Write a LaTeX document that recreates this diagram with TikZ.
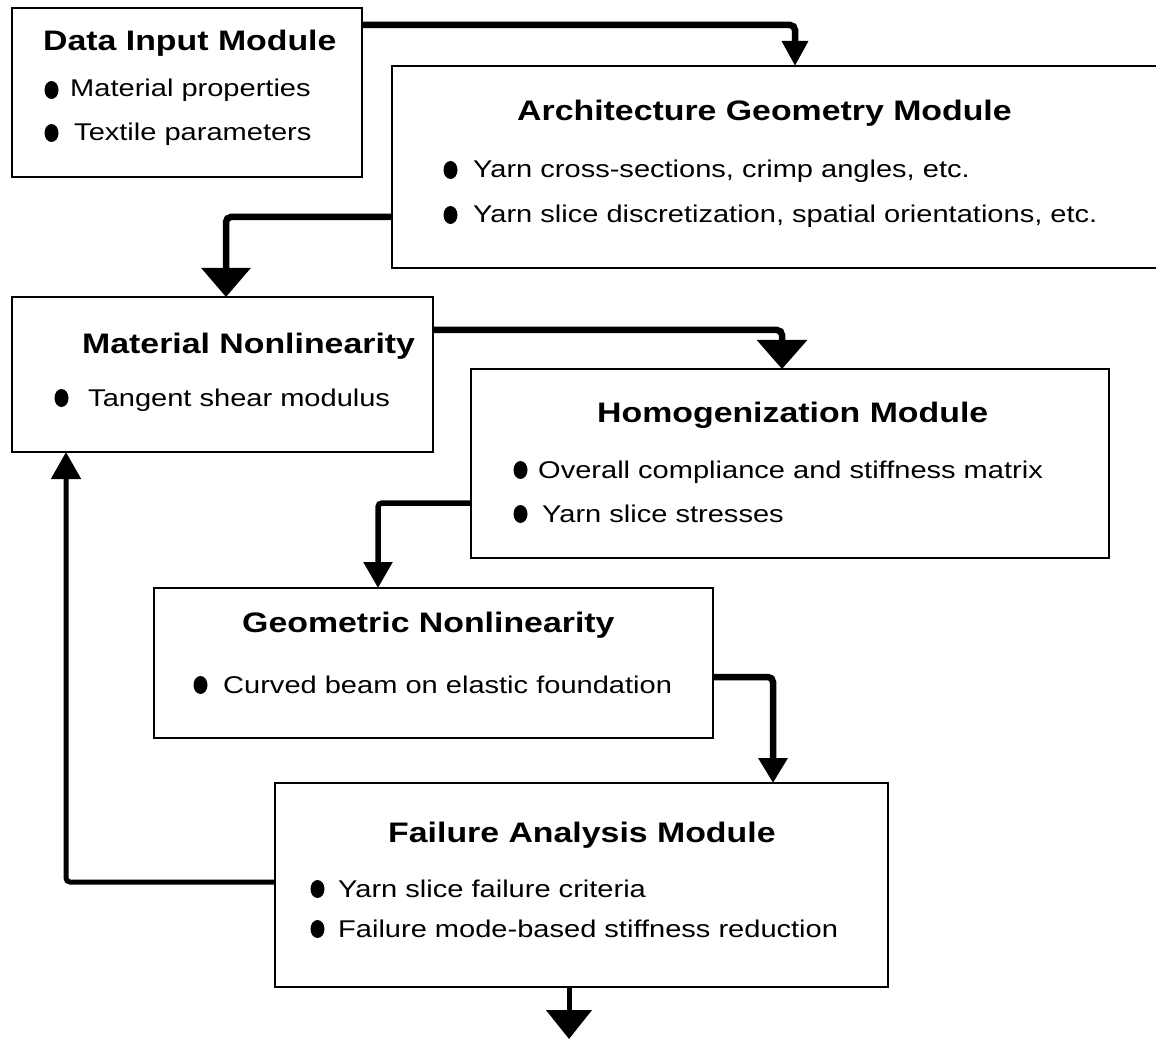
\documentclass[tikz,border=0pt]{standalone}
\usepackage{fontspec}
\setmainfont[FakeStretch=1.2]{Liberation Sans}
\usetikzlibrary{arrows.meta}
% filled oval bullet in front of a list line
\newcommand\bulat[2]{\fill (#1,#2) ellipse [x radius=7pt, y radius=9pt];}
\begin{document}
\begin{tikzpicture}[x=1pt,y=-1pt,
  box/.style={draw, line width=2.8pt, inner sep=0pt, outer sep=0pt, anchor=north west},
  ttl/.style={anchor=base west, inner sep=0pt, font=\fontsize{28.2}{32}\selectfont\bfseries},
  itm/.style={anchor=base west, inner sep=0pt, font=\fontsize{24.2}{28}\selectfont},
  conn/.style={line width=6.5pt, rounded corners=5pt},
  thinconn/.style={line width=5pt, rounded corners=4pt}
]
\clip (0,0) rectangle (1156,1040);
\fill[white] (0,0) rectangle (1156,1040);

% module boxes
\node[box, minimum width=350pt, minimum height=169pt] (dat)  at (12,8) {};
\node[box, minimum width=780pt, minimum height=202pt] (arch) at (392,66) {};
\node[box, minimum width=421pt, minimum height=155pt] (mat)  at (12,297) {};
\node[box, minimum width=638pt, minimum height=189pt] (hom)  at (471,369) {};
\node[box, minimum width=559pt, minimum height=150pt] (geo)  at (154,588) {};
\node[box, minimum width=613pt, minimum height=204pt] (fail) at (275,783) {};

% Data Input Module
\node[ttl] (dat-t) at (43,51) {Data Input Module};
\bulat{51.5}{90}
\node[itm] (dat-1) at (70,97) {Material properties};
\bulat{51.5}{133}
\node[itm] (dat-2) at (74,141) {Textile parameters};

% Architecture Geometry Module
\node[ttl] (arch-t) at (517,121) {Architecture Geometry Module};
\bulat{450.5}{170}
\node[itm] (arch-1) at (473,178) {Yarn cross-sections, crimp angles, etc.};
\bulat{450.5}{215}
\node[itm] (arch-2) at (473,223) {Yarn slice discretization, spatial orientations, etc.};

% Material Nonlinearity
\node[ttl] (mat-t) at (82,353) {Material Nonlinearity};
\bulat{61.5}{398}
\node[itm] (mat-1) at (88,406) {Tangent shear modulus};

% Homogenization Module
\node[ttl] (hom-t) at (597,422) {Homogenization Module};
\bulat{520.5}{470}
\node[itm] (hom-1) at (538,478) {Overall compliance and stiffness matrix};
\bulat{520.5}{514}
\node[itm] (hom-2) at (542,522) {Yarn slice stresses};

% Geometric Nonlinearity
\node[ttl] (geo-t) at (242,632) {Geometric Nonlinearity};
\bulat{200.5}{685}
\node[itm] (geo-1) at (223,693) {Curved beam on elastic foundation};

% Failure Analysis Module
\node[ttl] (fail-t) at (388,842) {Failure Analysis Module};
\bulat{317.5}{889}
\node[itm] (fail-1) at (338,897) {Yarn slice failure criteria};
\bulat{317.5}{929}
\node[itm] (fail-2) at (338,937) {Failure mode-based stiffness reduction};

% data flow
\draw[conn, -{Triangle[width=25pt,length=25pt]}]
  ([yshift=-17pt]dat.north east) -| ([xshift=403pt]arch.north west);
\draw[conn, -{Triangle[width=48pt,length=29pt]}]
  ([yshift=-151pt]arch.north west) -| ([xshift=214pt]mat.north west);
\draw[conn, -{Triangle[width=49pt,length=29pt]}]
  ([yshift=-33pt]mat.north east) -| ([xshift=311pt]hom.north west);
\draw[thinconn, line width=5.5pt, -{Triangle[width=28pt,length=26pt]}]
  ([yshift=-134pt]hom.north west) -| ([xshift=224pt]geo.north west);
\draw[conn, -{Triangle[width=28pt,length=25pt]}]
  ([yshift=-89pt]geo.north east) -| ([xshift=498pt]fail.north west);
\draw[thinconn, -{Triangle[width=29pt,length=27pt]}]
  ([yshift=-99pt]fail.north west) -| ([xshift=54pt]mat.south west);
\coordinate (out) at (569,1039);
\draw[thinconn, -{Triangle[width=45pt,length=29pt]}]
  ([xshift=294pt]fail.south west) -- (out);
\end{tikzpicture}
\end{document}
